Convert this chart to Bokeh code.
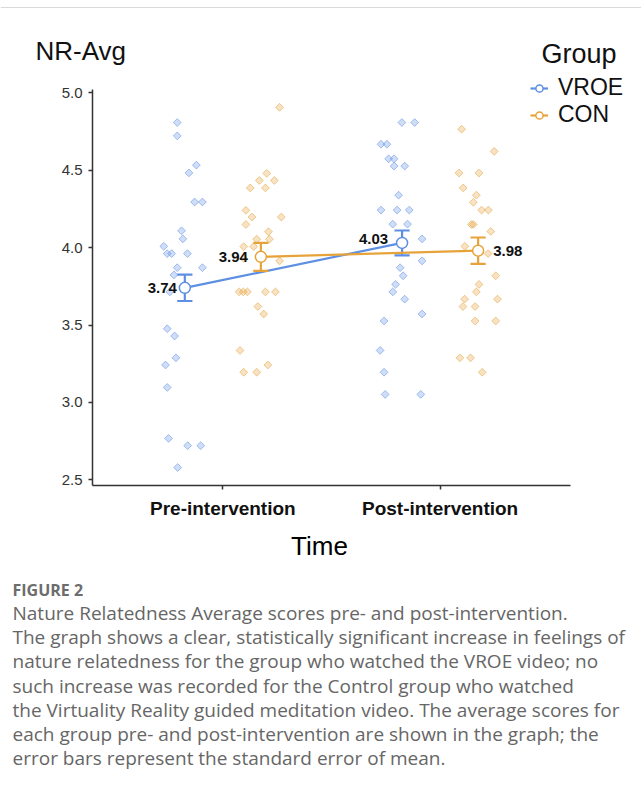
from bokeh.plotting import figure
from bokeh.layouts import column
from bokeh.models import Range1d, FixedTicker, Label, Legend, LegendItem, Span
from bokeh.embed import file_html
from bokeh.resources import INLINE

# ---------------- data ----------------
times = ["Pre-intervention", "Post-intervention"]
time_pos = [1, 2]
dodge = 0.175

vroe_mean = [3.74, 4.03]
con_mean = [3.94, 3.98]
vroe_se = [0.085, 0.08]
con_se = [0.09, 0.085]

vroe_pre_x = [0.790, 0.790, 0.878, 0.844, 0.870, 0.906, 0.810, 0.816, 0.728, 0.744, 0.764, 0.837, 0.790,
              0.906, 0.775, 0.756, 0.744, 0.778, 0.784, 0.736, 0.744, 0.750, 0.838, 0.898, 0.792]
vroe_pre_y = [4.807, 4.721, 4.532, 4.482, 4.294, 4.294, 4.108, 4.056, 4.008, 3.961, 3.961, 3.961, 3.870,
              3.870, 3.823, 3.714, 3.476, 3.429, 3.288, 3.242, 3.097, 2.768, 2.721, 2.721, 2.580]
con_pre_x = [1.261, 1.202, 1.168, 1.237, 1.126, 1.196, 1.106, 1.134, 1.269, 1.106, 1.210, 1.156, 1.214, 1.096,
             1.142, 1.261, 1.096, 1.075, 1.094, 1.113, 1.196, 1.242, 1.161, 1.188, 1.079, 1.207, 1.096, 1.156]
con_pre_y = [4.905, 4.479, 4.433, 4.433, 4.385, 4.385, 4.240, 4.197, 4.197, 4.149, 4.102, 4.054, 4.054, 4.006,
             4.006, 3.914, 3.930, 3.714, 3.714, 3.714, 3.714, 3.714, 3.619, 3.571, 3.336, 3.242, 3.195, 3.195]
vroe_post_x = [1.824, 1.883, 1.728, 1.755, 1.763, 1.788, 1.788, 1.837, 1.809, 1.728, 1.802, 1.858, 1.782, 1.850,
               1.917, 1.917, 1.816, 1.830, 1.795, 1.782, 1.837, 1.917, 1.742, 1.724, 1.742, 1.747, 1.911]
vroe_post_y = [4.807, 4.807, 4.667, 4.667, 4.573, 4.573, 4.526, 4.526, 4.338, 4.242, 4.242, 4.242, 4.151, 4.151,
               4.056, 3.914, 3.870, 3.818, 3.762, 3.714, 3.667, 3.571, 3.526, 3.336, 3.195, 3.052, 3.052]
con_post_x = [2.099, 2.249, 2.087, 2.179, 2.106, 2.167, 2.153, 2.191, 2.222, 2.144, 2.153, 2.233, 2.114,
              2.221, 2.256, 2.179, 2.167, 2.113, 2.264, 2.105, 2.161, 2.161, 2.256, 2.091, 2.140, 2.194]
con_post_y = [4.764, 4.621, 4.481, 4.481, 4.385, 4.338, 4.292, 4.242, 4.242, 4.149, 4.149, 4.104, 4.008,
              3.961, 3.818, 3.762, 3.714, 3.667, 3.667, 3.619, 3.619, 3.526, 3.526, 3.288, 3.288, 3.195]

y_ticks = [2.5, 3.0, 3.5, 4.0, 4.5, 5.0]
x_bounds = (0.4, 2.6)
y_bounds = (2.464, 5.021)

y_title = "NR-Avg"
x_title = "Time"
legend_title = "Group"
caption_head = "FIGURE 2"
caption_lines = [
    "Nature Relatedness Average scores pre- and post-intervention.",
    "The graph shows a clear, statistically significant increase in feelings of",
    "nature relatedness for the group who watched the VROE video; no",
    "such increase was recorded for the Control group who watched",
    "the Virtuality Reality guided meditation video. The average scores for",
    "each group pre- and post-intervention are shown in the graph; the",
    "error bars represent the standard error of mean.",
]

# ---------------- styles ----------------
BLUE = "#5f8fe3"
ORANGE = "#e6a33a"
FONT = "Liberation Sans"
CAP_FONT = "Open Sans"
W = 641
H_HEAD, H_MAIN, H_CAP = 72, 458, 255


def no_align(f):
    try:
        f.frame_align = False
    except AttributeError:
        pass


def blank(h):
    f = figure(width=W, height=h, output_backend="svg", toolbar_location=None,
               x_range=Range1d(0, W), y_range=Range1d(0, h),
               x_axis_location=None, y_axis_location=None, min_border=0)
    f.outline_line_color = None
    f.grid.visible = False
    no_align(f)
    return f


# ---------------- header ----------------
head = blank(H_HEAD)
head.add_layout(Span(location=H_HEAD - 7, dimension="width", line_color="#d9d9d9", line_width=1))
head.add_layout(Label(x=35, y=7, x_units="screen", y_units="screen", text=y_title,
                      text_font=FONT, text_font_size="26px", text_color="#111111"))
head.add_layout(Label(x=541, y=4, x_units="screen", y_units="screen", text=legend_title,
                      text_font=FONT, text_font_size="27px", text_color="#111111"))

# ---------------- main plot ----------------
p = figure(width=W, height=H_MAIN, output_backend="svg", toolbar_location=None,
           x_range=Range1d(0.4, 2.927), y_range=Range1d(2.464, 5.130),
           min_border_left=92, min_border_right=0, min_border_top=0, min_border_bottom=45)
p.outline_line_color = None
p.grid.visible = False
no_align(p)

for ax in (p.xaxis[0], p.yaxis[0]):
    ax.axis_line_color = "#333333"
    ax.axis_line_width = 1.5
    ax.major_tick_line_color = "#333333"
    ax.major_tick_line_width = 1.5
    ax.major_tick_out = 4
    ax.major_tick_in = 0
    ax.minor_tick_line_color = None
    ax.major_label_text_font = FONT

p.yaxis.bounds = y_bounds
p.yaxis.ticker = FixedTicker(ticks=y_ticks)
p.yaxis.major_label_overrides = {t: f"{t:.1f}" for t in y_ticks}
p.yaxis.major_label_text_font_size = "15px"
p.yaxis.major_label_text_color = "#333333"
p.yaxis.major_label_standoff = 6

p.xaxis.bounds = x_bounds
p.xaxis.ticker = FixedTicker(ticks=time_pos)
p.xaxis.major_label_overrides = {t: n for t, n in zip(time_pos, times)}
p.xaxis.major_label_text_font_size = "19px"
p.xaxis.major_label_text_font_style = "bold"
p.xaxis.major_label_text_color = "#111111"
p.xaxis.major_label_standoff = 8

for xs, ys, col in [(vroe_pre_x, vroe_pre_y, BLUE), (vroe_post_x, vroe_post_y, BLUE),
                    (con_pre_x, con_pre_y, ORANGE), (con_post_x, con_post_y, ORANGE)]:
    p.scatter(xs, ys, marker="square", angle=0.785398, size=5.5, fill_color=col, fill_alpha=0.3,
              line_color=col, line_alpha=0.55, line_width=1)

legend_items = []
for name, means, ses, col, off in [("VROE", vroe_mean, vroe_se, BLUE, -dodge),
                                   ("CON", con_mean, con_se, ORANGE, dodge)]:
    xs = [t + off for t in time_pos]
    lo = [m - s for m, s in zip(means, ses)]
    hi = [m + s for m, s in zip(means, ses)]
    ln = p.line(xs, means, line_color=col, line_width=2.2)
    p.segment(x0=xs, y0=lo, x1=xs, y1=hi, line_color=col, line_width=2.2)
    cw = 0.035
    p.segment(x0=[x - cw for x in xs], y0=lo, x1=[x + cw for x in xs], y1=lo, line_color=col, line_width=2.2)
    p.segment(x0=[x - cw for x in xs], y0=hi, x1=[x + cw for x in xs], y1=hi, line_color=col, line_width=2.2)
    ci = p.scatter(xs, means, marker="circle", size=11, fill_color="white", line_color=col, line_width=1.5)
    legend_items.append(LegendItem(label=name, renderers=[ln, ci]))

# mean value labels: (x, y, align, x offset px, y offset px)
label_specs = [(1 - dodge, vroe_mean[0], "right", -8, 0),
               (1 + dodge, con_mean[0], "right", -13, 0),
               (2 - dodge, vroe_mean[1], "right", -14, 4),
               (2 + dodge, con_mean[1], "left", 15, 0)]
for (x, y, align, xo, yo) in label_specs:
    p.add_layout(Label(x=x, y=y, text=f"{y:.2f}", text_align=align, text_baseline="middle",
                       x_offset=xo, y_offset=yo, text_font=FONT, text_font_size="15px",
                       text_font_style="bold", text_color="#111111"))

legend = Legend(items=legend_items, location=(438, 357), orientation="vertical",
                label_text_font=FONT, label_text_font_size="23px", label_text_color="#111111",
                glyph_width=18, glyph_height=20, label_height=20, label_standoff=10, spacing=0,
                padding=0, margin=0, background_fill_alpha=0, border_line_alpha=0)
p.add_layout(legend)

# ---------------- lower part: x title and caption ----------------
cap = blank(H_CAP)
cap.add_layout(Label(x=319, y=225, x_units="screen", y_units="screen", text=x_title,
                     text_align="center", text_font=FONT, text_font_size="26px", text_color="#000000"))
cap.add_layout(Label(x=12, y=185, x_units="screen", y_units="screen", text=caption_head,
                     text_font=CAP_FONT, text_font_size="16px", text_font_style="bold",
                     text_color="#6d6d6d"))
for i, line in enumerate(caption_lines):
    cap.add_layout(Label(x=12, y=159.5 - 24.2 * i, x_units="screen", y_units="screen", text=line,
                         text_font=CAP_FONT, text_font_size="19px", text_color="#666666"))

layout = column(head, p, cap, spacing=0)
open("out.html", "w").write(file_html(layout, INLINE))
